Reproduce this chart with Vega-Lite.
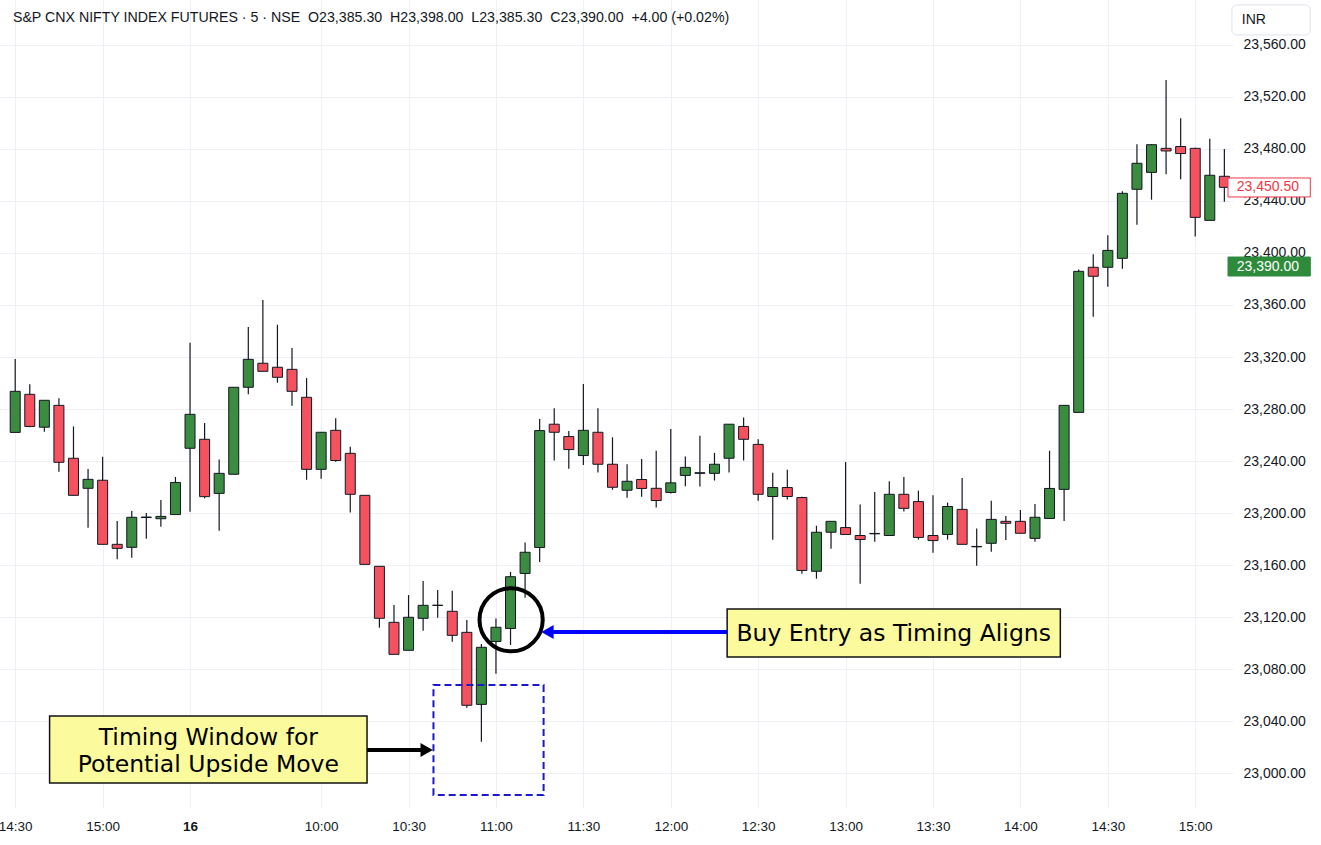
{
  "$schema": "https://vega.github.io/schema/vega-lite/v6.json",
  "width": 1233,
  "height": 808,
  "autosize": {"type": "none"},
  "padding": {"left": 0, "top": 0, "right": 88, "bottom": 37},
  "background": "white",
  "config": {"view": {"stroke": null}, "font": "Liberation Sans"},
  "datasets": {
    "candles": [
      {"i":0,"o":23262,"h":23318.5,"l":23262,"c":23293.6},
      {"i":1,"o":23291.3,"h":23299,"l":23266,"c":23266.6},
      {"i":2,"o":23266,"h":23286.7,"l":23262.5,"c":23286.7},
      {"i":3,"o":23282.8,"h":23288.2,"l":23231.8,"c":23239},
      {"i":4,"o":23242.1,"h":23266.6,"l":23213.6,"c":23213.6},
      {"i":5,"o":23219,"h":23233.8,"l":23188.7,"c":23225.9},
      {"i":6,"o":23225.2,"h":23243.3,"l":23175.9,"c":23175.9},
      {"i":7,"o":23175.9,"h":23193.8,"l":23164.4,"c":23172.8},
      {"i":8,"o":23173.6,"h":23201.5,"l":23165.6,"c":23196.7},
      {"i":9,"o":23196.5,"h":23200.1,"l":23180.2,"c":23196.9},
      {"i":10,"o":23195.6,"h":23210,"l":23189.5,"c":23197.4},
      {"i":11,"o":23198.8,"h":23227.7,"l":23198.8,"c":23223.5},
      {"i":12,"o":23249.8,"h":23331,"l":23200.9,"c":23275.9},
      {"i":13,"o":23256.7,"h":23269.2,"l":23211.3,"c":23212.6},
      {"i":14,"o":23215.1,"h":23241.2,"l":23186.4,"c":23230.5},
      {"i":15,"o":23229.8,"h":23296.7,"l":23229.8,"c":23296.7},
      {"i":16,"o":23296.7,"h":23343,"l":23291.3,"c":23318.2},
      {"i":17,"o":23315.2,"h":23363.8,"l":23309,"c":23309},
      {"i":18,"o":23312.1,"h":23344.8,"l":23300.2,"c":23304.4},
      {"i":19,"o":23310.5,"h":23326.9,"l":23282.5,"c":23293.6},
      {"i":20,"o":23289,"h":23303.8,"l":23225.6,"c":23233.6},
      {"i":21,"o":23233.6,"h":23262.1,"l":23226.4,"c":23262.1},
      {"i":22,"o":23263.6,"h":23272.8,"l":23239.5,"c":23240.4},
      {"i":23,"o":23245.9,"h":23250.9,"l":23200.4,"c":23214.4},
      {"i":24,"o":23213.6,"h":23213.6,"l":23160.5,"c":23160.5},
      {"i":25,"o":23159,"h":23159,"l":23111.8,"c":23119},
      {"i":26,"o":23115.9,"h":23129.2,"l":23091.3,"c":23091.3},
      {"i":27,"o":23094.4,"h":23136.9,"l":23094.4,"c":23119.8},
      {"i":28,"o":23119,"h":23147.8,"l":23109.5,"c":23129},
      {"i":29,"o":23128.9,"h":23140.8,"l":23119.5,"c":23129.1},
      {"i":30,"o":23124.4,"h":23140.3,"l":23101,"c":23105.9},
      {"i":31,"o":23108.2,"h":23117.7,"l":23050.2,"c":23052.1},
      {"i":32,"o":23052.8,"h":23099.2,"l":23024.1,"c":23096.7},
      {"i":33,"o":23101.2,"h":23118.8,"l":23076.4,"c":23112.1},
      {"i":34,"o":23111.2,"h":23154.7,"l":23098.5,"c":23151},
      {"i":35,"o":23153.5,"h":23177.3,"l":23134.9,"c":23169.8},
      {"i":36,"o":23173.5,"h":23272.3,"l":23162.3,"c":23263.4},
      {"i":37,"o":23268.3,"h":23280.5,"l":23240.4,"c":23262.1},
      {"i":38,"o":23258.8,"h":23263.1,"l":23234,"c":23248.8},
      {"i":39,"o":23244.2,"h":23299.2,"l":23237,"c":23263.6},
      {"i":40,"o":23262.1,"h":23280.5,"l":23231.2,"c":23237.5},
      {"i":41,"o":23237.5,"h":23258.2,"l":23217.9,"c":23219.8},
      {"i":42,"o":23217.5,"h":23237.5,"l":23211.8,"c":23224.4},
      {"i":43,"o":23225.8,"h":23241.5,"l":23212.6,"c":23218.9},
      {"i":44,"o":23219,"h":23247.8,"l":23204.2,"c":23209.6},
      {"i":45,"o":23215.8,"h":23264.6,"l":23215,"c":23223.2},
      {"i":46,"o":23228.9,"h":23243.5,"l":23220.5,"c":23235.1},
      {"i":47,"o":23230.5,"h":23259.5,"l":23220.3,"c":23231},
      {"i":48,"o":23230.5,"h":23246.2,"l":23225,"c":23237.5},
      {"i":49,"o":23242.1,"h":23268.3,"l":23231.2,"c":23268.3},
      {"i":50,"o":23266.6,"h":23273.5,"l":23240.4,"c":23256.7},
      {"i":51,"o":23252.8,"h":23256.7,"l":23209.4,"c":23214.4},
      {"i":52,"o":23212.7,"h":23230.9,"l":23179.5,"c":23219.6},
      {"i":53,"o":23219.6,"h":23233.2,"l":23210.4,"c":23212.7},
      {"i":54,"o":23211.9,"h":23212.5,"l":23153.3,"c":23155.8},
      {"i":55,"o":23155.2,"h":23190.2,"l":23149.5,"c":23185.2},
      {"i":56,"o":23185.2,"h":23193.6,"l":23172.6,"c":23193.6},
      {"i":57,"o":23188.8,"h":23239.2,"l":23183.5,"c":23183.5},
      {"i":58,"o":23182.7,"h":23206.5,"l":23145.6,"c":23179.6},
      {"i":59,"o":23184,"h":23216.2,"l":23177.9,"c":23184.3},
      {"i":60,"o":23182.7,"h":23224.4,"l":23182.7,"c":23214.4},
      {"i":61,"o":23214.4,"h":23227.7,"l":23201.2,"c":23203.6},
      {"i":62,"o":23208.8,"h":23217.2,"l":23179.6,"c":23181.2},
      {"i":63,"o":23182.7,"h":23213.6,"l":23169.5,"c":23178.8},
      {"i":64,"o":23183.5,"h":23208,"l":23179.5,"c":23205},
      {"i":65,"o":23202.8,"h":23226.9,"l":23175.9,"c":23175.9},
      {"i":66,"o":23174,"h":23188.1,"l":23159.5,"c":23174.3},
      {"i":67,"o":23176.7,"h":23209.5,"l":23170.2,"c":23195.1},
      {"i":68,"o":23193.6,"h":23197.7,"l":23179.2,"c":23192.1},
      {"i":69,"o":23193.6,"h":23202.3,"l":23184.4,"c":23184.4},
      {"i":70,"o":23180.5,"h":23206.9,"l":23177.8,"c":23196.7},
      {"i":71,"o":23195.8,"h":23247.9,"l":23195.8,"c":23218.9},
      {"i":72,"o":23218.2,"h":23282.8,"l":23193.9,"c":23282.8},
      {"i":73,"o":23277.4,"h":23387.4,"l":23277.4,"c":23385.9},
      {"i":74,"o":23389,"h":23399,"l":23351,"c":23382.1},
      {"i":75,"o":23389,"h":23413.6,"l":23374.1,"c":23402},
      {"i":76,"o":23395.9,"h":23447.4,"l":23387.9,"c":23445.9},
      {"i":77,"o":23449,"h":23483.6,"l":23421.8,"c":23469},
      {"i":78,"o":23462,"h":23483.8,"l":23441,"c":23483.3},
      {"i":79,"o":23480.5,"h":23533,"l":23460.6,"c":23478.5},
      {"i":80,"o":23481.9,"h":23503.6,"l":23456.7,"c":23476.5},
      {"i":81,"o":23480.5,"h":23481,"l":23412.6,"c":23427.4},
      {"i":82,"o":23425.1,"h":23487.8,"l":23425.1,"c":23459.8},
      {"i":83,"o":23459,"h":23480,"l":23439.5,"c":23450.5}
    ]
  },
  "layer": [
    {
      "data": {"name": "candles"},
      "mark": {"type": "rule", "color": "#131722", "strokeWidth": 1.2},
      "encoding": {
        "x": {
          "field": "i", "type": "quantitative",
          "scale": {"domain": [-0.701, 83.25], "nice": false, "zero": false},
          "axis": {
            "title": null,
            "values": [0, 6, 12, 21, 27, 33, 39, 45, 51, 57, 63, 69, 75, 81],
            "labelExpr": "datum.value == 0 ? '14:30' : datum.value == 6 ? '15:00' : datum.value == 12 ? '16' : datum.value == 21 ? '10:00' : datum.value == 27 ? '10:30' : datum.value == 33 ? '11:00' : datum.value == 39 ? '11:30' : datum.value == 45 ? '12:00' : datum.value == 51 ? '12:30' : datum.value == 57 ? '13:00' : datum.value == 63 ? '13:30' : datum.value == 69 ? '14:00' : datum.value == 75 ? '14:30' : '15:00'",
            "labelFlush": false,
            "labelOverlap": false,
            "grid": true,
            "gridColor": "#eef0f5",
            "gridWidth": 1,
            "ticks": false,
            "domain": false,
            "labelFontSize": 13.5,
            "labelColor": "#131722",
            "labelPadding": 11,
            "labelFontWeight": {"condition": {"test": "datum.value == 12", "value": "bold"}, "value": "normal"}
          }
        },
        "y": {
          "field": "l", "type": "quantitative",
          "scale": {"domain": [22973.1, 23594.6], "nice": false, "zero": false},
          "axis": {
            "orient": "right",
            "title": null,
            "values": [23000, 23040, 23080, 23120, 23160, 23200, 23240, 23280, 23320, 23360, 23400, 23440, 23480, 23520, 23560],
            "format": ",.2f",
            "grid": true,
            "gridColor": "#eef0f5",
            "ticks": false,
            "domain": false,
            "labelFontSize": 14,
            "labelColor": "#131722",
            "labelPadding": 10,
            "labelAlign": "left"
          }
        },
        "y2": {"field": "h"}
      }
    },
    {
      "data": {"name": "candles"},
      "mark": {"type": "bar", "size": 10, "stroke": "#131722", "strokeWidth": 1},
      "encoding": {
        "x": {"field": "i", "type": "quantitative", "axis": {"title": null}},
        "y": {"field": "o", "type": "quantitative", "axis": {"orient": "right", "title": null}},
        "y2": {"field": "c"},
        "fill": {"condition": {"test": "datum.c >= datum.o", "value": "#3b8b40"}, "value": "#f5525f"}
      }
    },
    {
      "data": {"values": [{"x": -0.157, "y": 23580.8, "t": "S&P CNX NIFTY INDEX FUTURES · 5 · NSE\u00a0\u00a0O23,385.30\u00a0\u00a0H23,398.00\u00a0\u00a0L23,385.30\u00a0\u00a0C23,390.00\u00a0\u00a0+4.00 (+0.02%)"}]},
      "mark": {"type": "text", "align": "left", "baseline": "middle", "fontSize": 14.2, "color": "#131722", "font": "Liberation Sans"},
      "encoding": {
        "x": {"field": "x", "type": "quantitative", "axis": {"title": null}},
        "y": {"field": "y", "type": "quantitative", "axis": {"orient": "right", "title": null}},
        "text": {"field": "t"}
      }
    },
    {
      "data": {"values": [
        {"x": 83.52, "x2": 88.9, "y": 23590.8, "y2": 23567.7}
      ]},
      "mark": {"type": "rect", "cornerRadius": 5, "fill": "#ffffff", "stroke": "#e0e3eb", "strokeWidth": 1},
      "encoding": {
        "x": {"field": "x", "type": "quantitative", "axis": {"title": null}},
        "x2": {"field": "x2"},
        "y": {"field": "y", "type": "quantitative", "axis": {"orient": "right", "title": null}},
        "y2": {"field": "y2"}
      }
    },
    {
      "data": {"values": [
        {"x": 83.25, "x2": 88.9, "y": 23457.7, "y2": 23443.1, "k": "last"},
        {"x": 83.25, "x2": 88.9, "y": 23396.9, "y2": 23382.3, "k": "cross"}
      ]},
      "mark": {"type": "rect", "strokeWidth": 1},
      "encoding": {
        "x": {"field": "x", "type": "quantitative", "axis": {"title": null}},
        "x2": {"field": "x2"},
        "y": {"field": "y", "type": "quantitative", "axis": {"orient": "right", "title": null}},
        "y2": {"field": "y2"},
        "fill": {"condition": {"test": "datum.k == 'last'", "value": "#ffffff"}, "value": "#2f8b3c"},
        "stroke": {"condition": {"test": "datum.k == 'last'", "value": "#f23645"}, "value": "#2f8b3c"}
      }
    },
    {
      "data": {"values": [
        {"x": 84.2, "y": 23579.2, "t": "INR", "k": "inr"},
        {"x": 83.85, "y": 23450.5, "t": "23,450.50", "k": "last"},
        {"x": 83.85, "y": 23389.6, "t": "23,390.00", "k": "cross"}
      ]},
      "mark": {"type": "text", "align": "left", "baseline": "middle", "fontSize": 14, "font": "Liberation Sans"},
      "encoding": {
        "x": {"field": "x", "type": "quantitative", "axis": {"title": null}},
        "y": {"field": "y", "type": "quantitative", "axis": {"orient": "right", "title": null}},
        "text": {"field": "t"},
        "color": {"condition": [{"test": "datum.k == 'last'", "value": "#f23645"}, {"test": "datum.k == 'cross'", "value": "#ffffff"}], "value": "#131722"}
      }
    },
    {
      "data": {"values": [{"x": 28.71, "x2": 36.27, "y": 23067.7, "y2": 22983.1}]},
      "mark": {"type": "rect", "fillOpacity": 0, "stroke": "#1a1acc", "strokeWidth": 2, "strokeDash": [7, 4]},
      "encoding": {
        "x": {"field": "x", "type": "quantitative", "axis": {"title": null}},
        "x2": {"field": "x2"},
        "y": {"field": "y", "type": "quantitative", "axis": {"orient": "right", "title": null}},
        "y2": {"field": "y2"}
      }
    },
    {
      "data": {"values": [
        {"x": 2.36, "x2": 24.15, "y": 23043.8, "y2": 22992.3},
        {"x": 48.87, "x2": 71.74, "y": 23126.2, "y2": 23089.2}
      ]},
      "mark": {"type": "rect", "fill": "#fbfb9d", "stroke": "#131313", "strokeWidth": 1.5},
      "encoding": {
        "x": {"field": "x", "type": "quantitative", "axis": {"title": null}},
        "x2": {"field": "x2"},
        "y": {"field": "y", "type": "quantitative", "axis": {"orient": "right", "title": null}},
        "y2": {"field": "y2"}
      }
    },
    {
      "data": {"values": [
        {"x": 13.26, "y": 23026.9, "t": "Timing Window for"},
        {"x": 13.26, "y": 23006.2, "t": "Potential Upside Move"},
        {"x": 60.3, "y": 23106.9, "t": "Buy Entry as Timing Aligns"}
      ]},
      "mark": {"type": "text", "align": "center", "baseline": "middle", "fontSize": 23.5, "font": "DejaVu Sans", "color": "#000000"},
      "encoding": {
        "x": {"field": "x", "type": "quantitative", "axis": {"title": null}},
        "y": {"field": "y", "type": "quantitative", "axis": {"orient": "right", "title": null}},
        "text": {"field": "t"}
      }
    },
    {
      "data": {"values": [{"x": 34.04, "y": 23117.9}]},
      "mark": {"type": "point", "shape": "circle", "size": 4000, "filled": false, "stroke": "#000000", "strokeWidth": 4, "opacity": 1},
      "encoding": {
        "x": {"field": "x", "type": "quantitative", "axis": {"title": null}},
        "y": {"field": "y", "type": "quantitative", "axis": {"orient": "right", "title": null}}
      }
    },
    {
      "data": {"values": [
        {"x": 36.54, "x2": 48.87, "y": 23108.5, "k": "blue"},
        {"x": 24.15, "x2": 28.24, "y": 23017.7, "k": "black"}
      ]},
      "mark": {"type": "rule", "strokeWidth": 4},
      "encoding": {
        "x": {"field": "x", "type": "quantitative", "axis": {"title": null}},
        "x2": {"field": "x2"},
        "y": {"field": "y", "type": "quantitative", "axis": {"orient": "right", "title": null}},
        "color": {"condition": {"test": "datum.k == 'blue'", "value": "#0000ff"}, "value": "#000000"}
      }
    },
    {
      "data": {"values": [
        {"x": 36.54, "y": 23108.5, "k": "blue"},
        {"x": 28.24, "y": 23017.7, "k": "black"}
      ]},
      "mark": {"type": "point", "filled": true, "size": 200, "opacity": 1},
      "encoding": {
        "x": {"field": "x", "type": "quantitative", "axis": {"title": null}},
        "y": {"field": "y", "type": "quantitative", "axis": {"orient": "right", "title": null}},
        "shape": {"condition": {"test": "datum.k == 'blue'", "value": "triangle-left"}, "value": "triangle-right"},
        "color": {"condition": {"test": "datum.k == 'blue'", "value": "#0000ff"}, "value": "#000000"}
      }
    }
  ]
}
